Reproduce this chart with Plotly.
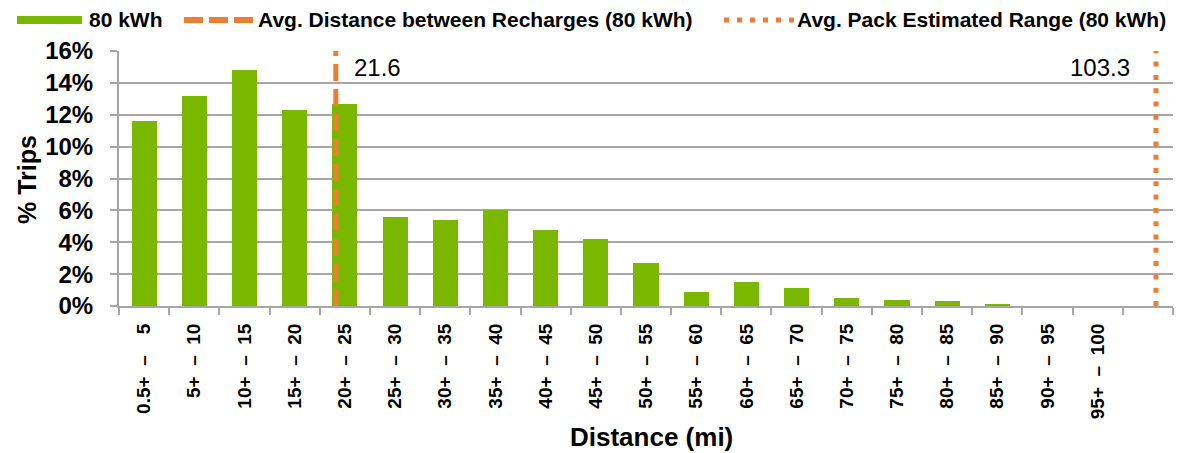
import plotly.graph_objects as go

# ---------------- data ----------------
bin_labels = ["0.5+ – 5", "5+ – 10", "10+ – 15", "15+ – 20", "20+ – 25",
              "25+ – 30", "30+ – 35", "35+ – 40", "40+ – 45", "45+ – 50",
              "50+ – 55", "55+ – 60", "60+ – 65", "65+ – 70", "70+ – 75",
              "75+ – 80", "80+ – 85", "85+ – 90", "90+ – 95", "95+ – 100"]
bin_start = [0, 5, 10, 15, 20, 25, 30, 35, 40, 45,
             50, 55, 60, 65, 70, 75, 80, 85, 90, 95]
pct_trips = [11.6, 13.2, 14.8, 12.3, 12.7, 5.6, 5.4, 6.0, 4.8, 4.2,
             2.7, 0.9, 1.5, 1.1, 0.5, 0.4, 0.3, 0.1, 0.0, 0.0]
avg_dist_recharge = 21.6
avg_pack_range = 103.3
series_name = "80 kWh"
recharge_name = "Avg. Distance between Recharges (80 kWh)"
range_name = "Avg. Pack Estimated Range (80 kWh)"
y_ticks = [0, 2, 4, 6, 8, 10, 12, 14, 16]
x_edges = [0, 5, 10, 15, 20, 25, 30, 35, 40, 45, 50,
           55, 60, 65, 70, 75, 80, 85, 90, 95, 100, 105]

BIN_W = 5
GREEN = "#7AB800"
ORANGE = "#ED7D31"
GRID = "#A6A6A6"
FONT = "Liberation Sans, Arial, sans-serif"

NB = "\u00a0"
def fmt_label(lab):
    lo, hi = lab.split(" – ")
    if len(hi) < 2:
        hi = "\u2007" + hi
    return "<b>" + lo + NB * 2 + "–" + NB * 2 + hi + "</b>"

centers = [s + BIN_W / 2 for s in bin_start]
ticktext = [fmt_label(l) for l in bin_labels]

W, H = 1178, 453
ML, MR, MT, MB = 119, 5, 51, 147
PW, PH = W - ML - MR, H - MT - MB

def px(xp):
    return (xp - ML) / PW

def py(yp):
    return (H - MB - yp) / PH

fig = go.Figure()

fig.add_trace(go.Bar(x=centers, y=pct_trips, width=BIN_W * 0.5,
                     marker=dict(color=GREEN, line=dict(width=0)),
                     name=series_name, showlegend=False))

fig.add_trace(go.Scatter(x=[avg_dist_recharge, avg_dist_recharge], y=[0, y_ticks[-1]],
                         mode="lines", line=dict(color=ORANGE, width=5, dash="17px,8px"),
                         name=recharge_name, showlegend=False))
fig.add_trace(go.Scatter(x=[avg_pack_range, avg_pack_range], y=[0, y_ticks[-1]],
                         mode="lines", line=dict(color=ORANGE, width=5, dash="5px,8.3px"),
                         name=range_name, showlegend=False))

# value labels for the lines
fig.add_annotation(x=avg_dist_recharge, y=14.95, xref="x", yref="y", text=f"{avg_dist_recharge}",
                   showarrow=False, xanchor="left", yanchor="middle", xshift=16,
                   font=dict(family=FONT, size=24, color="black"))
fig.add_annotation(x=avg_pack_range, y=14.95, xref="x", yref="y", text=f"{avg_pack_range}",
                   showarrow=False, xanchor="right", yanchor="middle", xshift=-24,
                   font=dict(family=FONT, size=24, color="black"))

# custom legend
ly = py(20)
fig.add_shape(type="line", xref="paper", yref="paper", x0=px(17), x1=px(82), y0=ly, y1=ly,
              line=dict(color=GREEN, width=8))
fig.add_shape(type="line", xref="paper", yref="paper", x0=px(184), x1=px(253), y0=ly, y1=ly,
              line=dict(color=ORANGE, width=6, dash="19px,6px"))
fig.add_shape(type="line", xref="paper", yref="paper", x0=px(724), x1=px(794), y0=ly, y1=ly,
              line=dict(color=ORANGE, width=5, dash="5px,8px"))
for xx, t in [(87, series_name), (256, recharge_name), (795, range_name)]:
    fig.add_annotation(x=px(xx), y=ly, xref="paper", yref="paper", text=f"<b>{t}</b>",
                       showarrow=False, xanchor="left", yanchor="middle",
                       font=dict(family=FONT, size=21, color="black"))

# axis titles
fig.add_annotation(x=px(27), y=py(180), xref="paper", yref="paper", text="<b>% Trips</b>",
                   textangle=-90, showarrow=False, xanchor="center", yanchor="middle",
                   font=dict(family=FONT, size=25, color="black"))
fig.add_annotation(x=px(651), y=py(437), xref="paper", yref="paper", text="<b>Distance (mi)</b>",
                   showarrow=False, xanchor="center", yanchor="middle",
                   font=dict(family=FONT, size=26, color="black"))

fig.update_layout(
    width=W, height=H,
    margin=dict(l=ML, r=MR, t=MT, b=MB, pad=0),
    plot_bgcolor="white", paper_bgcolor="white",
    showlegend=False,
    bargap=0,
    xaxis=dict(range=[0, 105], tickmode="array", tickvals=centers, ticktext=ticktext,
               tickangle=-90, ticks="outside", ticklen=8, tickcolor="rgba(0,0,0,0)",
               tickfont=dict(family=FONT, size=19, color="black"),
               showline=True, linecolor=GRID, linewidth=2, showgrid=False, zeroline=False,
               minor=dict(tickmode="array", tickvals=x_edges, ticks="outside", ticklen=7,
                          tickcolor=GRID, tickwidth=2, showgrid=False),
               fixedrange=True),
    yaxis=dict(range=[0, 16], tickmode="array", tickvals=y_ticks,
               ticktext=[f"<b>{v}%</b>" for v in y_ticks],
               ticks="outside", ticklen=7, tickcolor=GRID, tickwidth=2,
               tickfont=dict(family=FONT, size=24, color="black"),
               showline=True, linecolor=GRID, linewidth=2,
               showgrid=True, gridcolor=GRID, gridwidth=2, zeroline=False,
               ticklabelstandoff=12),
    yaxis2=dict(range=[0, 5], overlaying="y", side="right", tickmode="linear", tick0=0, dtick=1,
                ticks="outside", ticklen=5, tickcolor=GRID, tickwidth=2,
                showticklabels=False, showline=True, linecolor=GRID, linewidth=2,
                showgrid=False, zeroline=False),
)

fig.write_html("out.html", config={"displayModeBar": False},
               post_script="document.body.style.margin='0px';document.body.style.overflow='hidden';")
